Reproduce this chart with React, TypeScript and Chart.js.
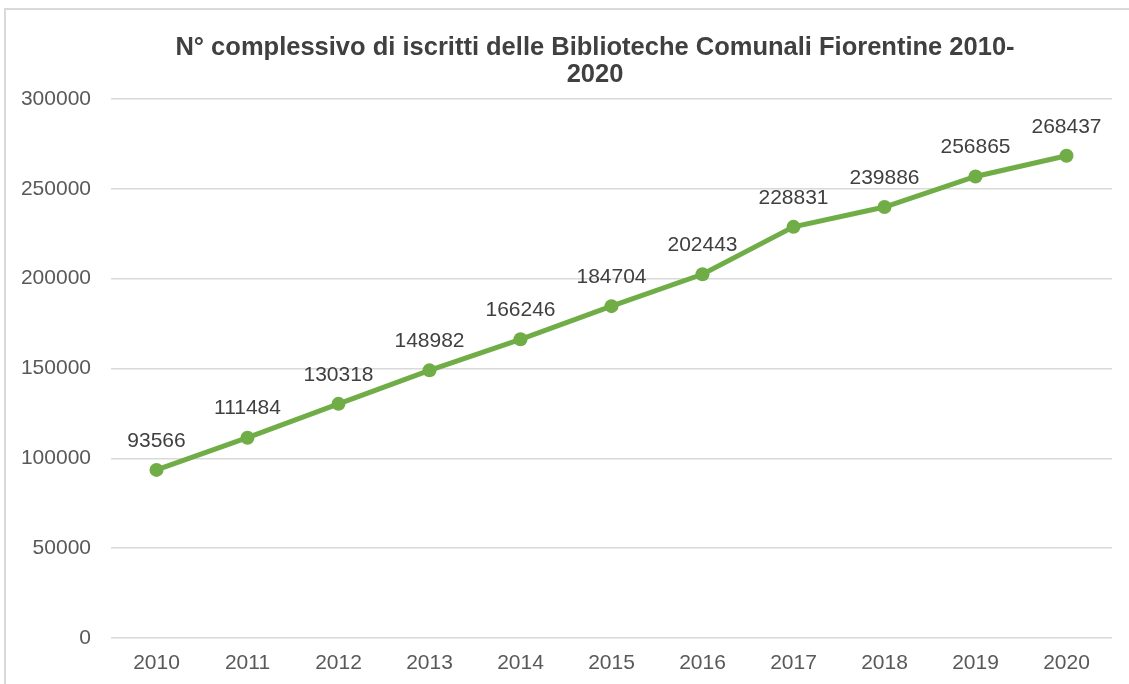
import React, { useEffect, useRef } from "react";
import { Chart, registerables } from "chart.js";

Chart.register(...registerables);

const years = ["2010", "2011", "2012", "2013", "2014", "2015", "2016", "2017", "2018", "2019", "2020"];
const iscritti = [93566, 111484, 130318, 148982, 166246, 184704, 202443, 228831, 239886, 256865, 268437];
const titleLines = ["N° complessivo di iscritti delle Biblioteche Comunali Fiorentine 2010-", "2020"];

const FONT = "'Liberation Sans', Arial, sans-serif";

const bgPlugin = {
  id: "bgBorder",
  beforeDraw(chart: any) {
    const ctx = chart.ctx;
    ctx.save();
    ctx.fillStyle = "#ffffff";
    ctx.fillRect(0, 0, chart.width, chart.height);
    ctx.strokeStyle = "#d9d9d9";
    ctx.lineWidth = 2;
    ctx.strokeRect(5, 9, chart.width + 20, chart.height + 20);
    ctx.restore();
  },
};

const titlePlugin = {
  id: "customTitle",
  afterDraw(chart: any) {
    const ctx = chart.ctx;
    ctx.save();
    ctx.font = `bold 25.5px ${FONT}`;
    ctx.fillStyle = "#404040";
    ctx.textAlign = "center";
    ctx.textBaseline = "alphabetic";
    titleLines.forEach((line, i) => {
      ctx.fillText(line, 595, 55 + i * 27);
    });
    ctx.restore();
  },
};

const labelPlugin = {
  id: "pointLabels",
  afterDatasetsDraw(chart: any) {
    const ctx = chart.ctx;
    const meta = chart.getDatasetMeta(0);
    const data = chart.data.datasets[0].data;
    ctx.save();
    ctx.font = `21px ${FONT}`;
    ctx.fillStyle = "#404040";
    ctx.textAlign = "center";
    ctx.textBaseline = "middle";
    meta.data.forEach((pt: any, i: number) => {
      ctx.fillText(String(data[i]), pt.x, pt.y - 29);
    });
    ctx.restore();
  },
};

export default function App() {
  const ref = useRef<HTMLCanvasElement>(null);
  useEffect(() => {
    if (!ref.current) return;
    const chart = new Chart(ref.current, {
      type: "line",
      data: {
        labels: years,
        datasets: [
          {
            data: iscritti,
            borderColor: "#70AD47",
            backgroundColor: "#70AD47",
            borderWidth: 5,
            pointRadius: 7,
            pointHoverRadius: 7,
            pointBackgroundColor: "#70AD47",
            pointBorderWidth: 0,
            tension: 0,
          },
        ],
      },
      options: {
        responsive: false,
        animation: false,
        layout: { padding: { left: 0, right: 17, top: 99, bottom: 0 } },
        plugins: {
          legend: { display: false },
          tooltip: { enabled: false },
          title: { display: false },
        },
        scales: {
          x: {
            offset: true,
            grid: { display: false, drawTicks: false },
            border: { display: false },
            ticks: { color: "#595959", font: { family: FONT, size: 21 }, padding: 13 },
            afterFit(scale: any) {
              scale.height = 46;
            },
          },
          y: {
            min: 0,
            max: 300000,
            grid: { color: "#d9d9d9", lineWidth: 1.5, drawTicks: false },
            border: { display: false },
            ticks: {
              stepSize: 50000,
              color: "#595959",
              font: { family: FONT, size: 21 },
              padding: 20,
              callback: (v: any) => String(v),
            },
            afterFit(scale: any) {
              scale.width = 111;
            },
          },
        },
      },
      plugins: [bgPlugin, labelPlugin, titlePlugin],
    });
    return () => chart.destroy();
  }, []);
  return (
    <div style={{ position: "absolute", left: 0, top: 0, width: 1129, height: 684 }}>
      <canvas ref={ref} width={1129} height={684} style={{ display: "block" }} />
    </div>
  );
}
